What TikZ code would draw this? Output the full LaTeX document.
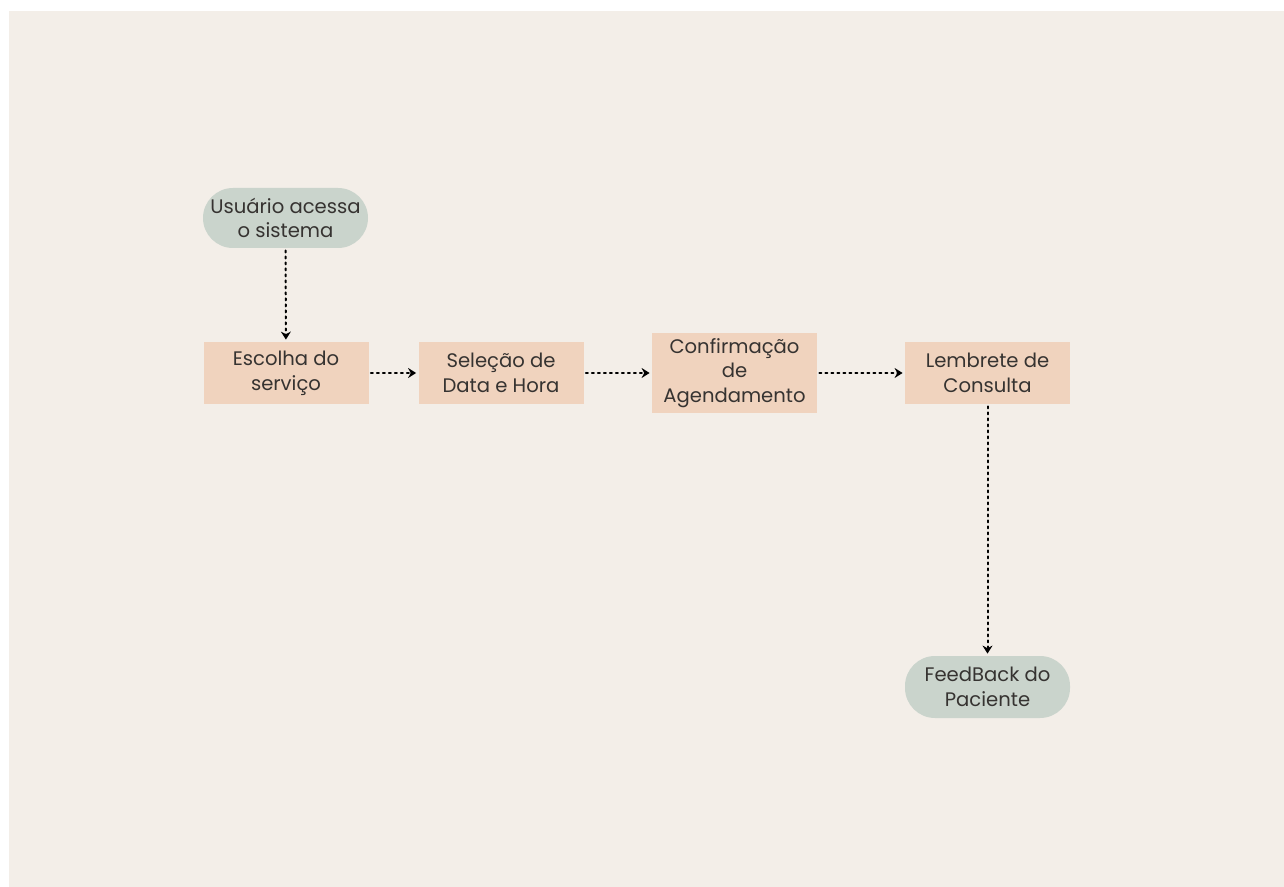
\documentclass[tikz,border=0pt]{standalone}
\usepackage{fontspec}
\setmainfont{Poppins}
\usetikzlibrary{arrows.meta}

\definecolor{paper}{HTML}{F3EEE8}
\definecolor{sage}{HTML}{CAD4CC}
\definecolor{peach}{HTML}{F0D3BE}
\definecolor{ink}{HTML}{363331}

\begin{document}
\begin{tikzpicture}[
						x=0.5pt, y=-0.5pt,
						every node/.style={font=\fontsize{9.8}{12.3}\selectfont, text=ink, align=center, inner sep=0pt},
						stepbox/.style={fill=peach, minimum width=82.5pt, minimum height=31pt},
						endpill/.style={fill=sage, minimum width=82.5pt, minimum height=30pt, rounded corners=15pt},
						flow/.style={dotted, line width=1pt, -{Stealth[length=4pt,width=5pt]}, shorten <=1pt, shorten >=1pt},
						line cap=round,
						line join=round
						]
						
						% page and background
						\fill[white] (0,0) rectangle (1284,887);
						\fill[paper] (9,11) rectangle (1284,887);
						\useasboundingbox (0,0) rectangle (1284,887);
						
						% start and end
						\node[endpill] (inicio) at (285.5,218) {Usuário acessa\\o sistema};
						\node[endpill, minimum height=31pt] (feedback) at (987.5,687) {FeedBack do\\Paciente};
						
						% steps
						\node[stepbox] (escolha) at (286,373) {Escolha do\\serviço};
						\node[stepbox] (selecao) at (501,373) {Seleção de\\Data e Hora};
						\node[stepbox, minimum height=40pt] (confirma) at (734.5,373) {Confirmação\\de\\Agendamento};
						\node[stepbox] (lembrete) at (987.5,373) {Lembrete de\\Consulta};
						
						% connectors
						\draw[flow] (inicio) -- (escolha);
						\draw[flow] (escolha) -- (selecao);
						\draw[flow] (selecao) -- (confirma);
						\draw[flow] (confirma) -- (lembrete);
						\draw[flow] (lembrete) -- (feedback);
						
					\end{tikzpicture}
\end{document}
